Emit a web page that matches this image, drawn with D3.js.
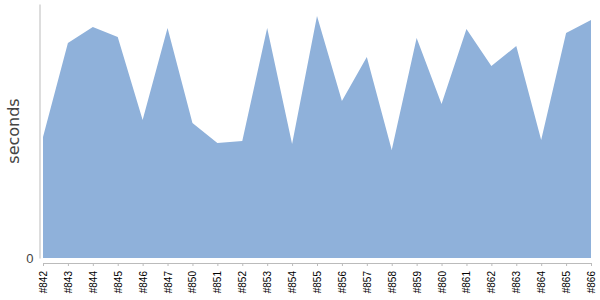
<!DOCTYPE html>
<html>
<head>
<meta charset="utf-8">
<script src="https://cdn.jsdelivr.net/npm/d3@7"></script>
<style>
  body { margin: 0; background: #fff; }
  svg { display: block; font-family: "DejaVu Sans", sans-serif; }
  .axis path, .axis line { stroke: #bbb; }
  .axis text { fill: #000; font-size: 10px; }
</style>
</head>
<body>
<div id="chart"></div>
<script>
// builds and their durations (seconds)
const builds = ["#842", "#843", "#844", "#845", "#846", "#847", "#850", "#851",
  "#852", "#853", "#854", "#855", "#856", "#857", "#858", "#859", "#860",
  "#861", "#862", "#863", "#864", "#865", "#866"];
const seconds = [121, 215, 231, 221, 138, 230, 135, 115, 117, 230, 114, 242,
  157, 201, 108, 220, 154, 229, 192, 212, 118, 225, 238];
const yTicks = [0];

const width = 600;
const height = 300;
const margin = { top: 4, right: 9, bottom: 42, left: 43 };

const data = builds.map((b, i) => ({ build: b, value: seconds[i] }));

const svg = d3.select("#chart")
  .append("svg")
  .attr("width", width)
  .attr("height", height);

const x = d3.scalePoint()
  .domain(builds)
  .range([margin.left, width - margin.right]);

const y = d3.scaleLinear()
  .domain([0, 254])
  .range([height - margin.bottom, margin.top]);

// the area itself
const area = d3.area()
  .x((d) => x(d.build))
  .y0(y(0))
  .y1((d) => y(d.value));

svg.append("path")
  .datum(data)
  .attr("fill", "#8fb1da")
  .attr("d", area);

// x axis, a few px below the baseline
const xAxis = svg.append("g")
  .attr("class", "axis")
  .attr("transform", `translate(0,${y(0) + 5})`)
  .call(d3.axisBottom(x).tickSizeInner(3).tickSizeOuter(0));

xAxis.selectAll("text")
  .attr("transform", "rotate(-90)")
  .attr("x", -8)
  .attr("y", 0)
  .attr("dy", "0.35em")
  .style("text-anchor", "end");

// y axis, offset a little to the left
const yAxis = svg.append("g")
  .attr("class", "axis")
  .attr("transform", `translate(${margin.left - 3.5},0)`)
  .call(d3.axisLeft(y).tickValues(yTicks).tickSize(0).tickPadding(6));

yAxis.selectAll("text")
  .style("font-size", "13px")
  .style("fill", "#444");

svg.append("text")
  .attr("transform", `translate(13,${(margin.top + y(0)) / 2}) rotate(-90)`)
  .attr("text-anchor", "middle")
  .attr("dy", "0.35em")
  .style("font-size", "16px")
  .style("fill", "#444")
  .text("seconds");
</script>
</body>
</html>
